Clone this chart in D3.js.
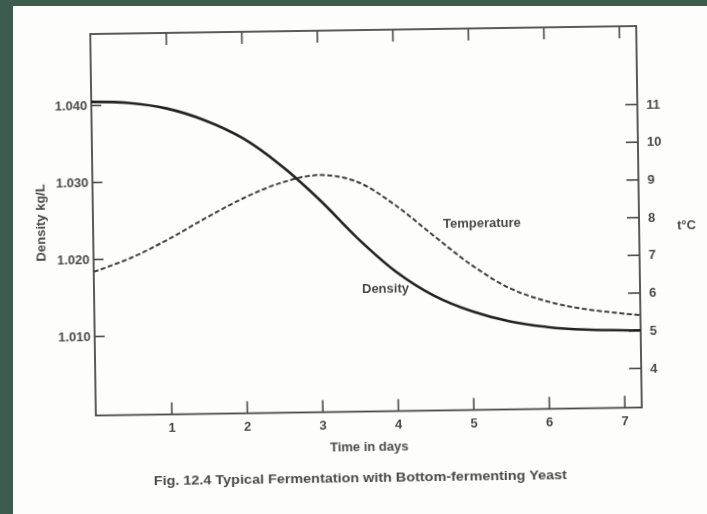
<!DOCTYPE html>
<html>
<head>
<meta charset="utf-8">
<script src="https://cdn.jsdelivr.net/npm/d3@7"></script>
<style>
  body { margin: 0; background: #fdfdfc; }
  .axis text { font-family: "Liberation Sans", Arial, sans-serif; font-weight: bold; font-size: 13px; fill: #4a4a4a; }
  .axis line { stroke: #4a4a4a; stroke-width: 1.6; }
  .axis path { display: none; }
  .lbl { font-family: "Liberation Sans", Arial, sans-serif; font-weight: bold; font-size: 13px; fill: #4a4a4a; }
</style>
</head>
<body>
<div id="d3-container"></div>
<script>
// values
const days = [0, 0.5, 1, 1.5, 2, 2.5, 3, 3.5, 4, 4.5, 5, 5.5, 6, 6.5, 7.23];
const density = [1.0404, 1.0402, 1.0394, 1.0378, 1.0354, 1.0318, 1.0273, 1.0222, 1.0178, 1.0146, 1.0125, 1.0111, 1.0103, 1.0099, 1.0097];
const temperature = [6.76, 7.12, 7.6, 8.15, 8.66, 9.05, 9.24, 9.05, 8.42, 7.6, 6.8, 6.17, 5.8, 5.58, 5.40];
const dayTicks = [1, 2, 3, 4, 5, 6, 7];
const densityTicks = [1.010, 1.020, 1.030, 1.040];
const tempTicks = [4, 5, 6, 7, 8, 9, 10, 11];

const W = 707, H = 514;
const frame = { left: 93, right: 639, top: 30, bottom: 411.5 };

const xScale = d3.scaleLinear().domain([0, 7.23]).range([frame.left, frame.right]);
const yDens = d3.scaleLinear().domain([1.000, 1.050]).range([409, 24]);
const yTemp = d3.scaleLinear().domain([3, 13]).range([409.6, 32.6]);

const svg = d3.select("#d3-container")
    .append("svg")
    .attr("width", W)
    .attr("height", H);

svg.append("defs")
    .append("filter")
    .attr("id", "scan")
    .append("feGaussianBlur")
    .attr("stdDeviation", 0.45);

svg.append("rect").attr("width", W).attr("height", H).attr("fill", "#fdfdfc");

// page is slightly tilted in the scan
const g = svg.append("g")
    .attr("filter", "url(#scan)")
    .attr("transform", "rotate(-0.84, 367, 220)");

g.append("rect")
    .attr("x", frame.left)
    .attr("y", frame.top)
    .attr("width", frame.right - frame.left)
    .attr("height", frame.bottom - frame.top)
    .attr("fill", "none")
    .attr("stroke", "#4a4a4a")
    .attr("stroke-width", 1.8);

g.append("g")
    .attr("class", "axis")
    .attr("transform", "translate(0," + frame.bottom + ")")
    .call(d3.axisBottom(xScale).tickValues(dayTicks).tickSize(-12).tickPadding(8));

g.append("g")
    .attr("class", "axis")
    .attr("transform", "translate(0," + frame.top + ")")
    .call(d3.axisTop(xScale).tickValues(dayTicks).tickFormat("").tickSize(-12));

g.append("g")
    .attr("class", "axis")
    .attr("transform", "translate(" + frame.left + ",0)")
    .call(d3.axisLeft(yDens).tickValues(densityTicks).tickFormat(d3.format(".3f")).tickSize(-10).tickPadding(4));

g.append("g")
    .attr("class", "axis")
    .attr("transform", "translate(" + frame.right + ",0)")
    .call(d3.axisRight(yTemp).tickValues(tempTicks).tickSize(-12).tickPadding(9));

const densLine = d3.line()
    .x((d, i) => xScale(days[i]))
    .y(d => yDens(d))
    .curve(d3.curveCatmullRom);

const tempLine = d3.line()
    .x((d, i) => xScale(days[i]))
    .y(d => yTemp(d))
    .curve(d3.curveCatmullRom);

g.append("path")
    .datum(temperature)
    .attr("d", tempLine)
    .attr("fill", "none")
    .attr("stroke", "#404040")
    .attr("stroke-width", 2)
    .attr("stroke-dasharray", "5,2.5");

g.append("path")
    .datum(density)
    .attr("d", densLine)
    .attr("fill", "none")
    .attr("stroke", "#222")
    .attr("stroke-width", 2.6);

g.append("text")
    .attr("class", "lbl")
    .attr("x", 443).attr("y", 229)
    .text("Temperature");

g.append("text")
    .attr("class", "lbl")
    .attr("x", 361).attr("y", 293)
    .text("Density");

g.append("text")
    .attr("class", "lbl")
    .attr("x", 366).attr("y", 451)
    .attr("text-anchor", "middle")
    .text("Time in days");

g.append("text")
    .attr("class", "lbl")
    .attr("transform", "translate(45,218) rotate(-90)")
    .attr("text-anchor", "middle")
    .text("Density kg/L");

g.append("text")
    .attr("class", "lbl")
    .attr("x", 677).attr("y", 234)
    .text("t°C");

g.append("text")
    .attr("class", "lbl")
    .attr("x", 150).attr("y", 482)
    .attr("textLength", 413)
    .attr("lengthAdjust", "spacingAndGlyphs")
    .style("font-size", "12px")
    .text("Fig. 12.4   Typical Fermentation with Bottom-fermenting Yeast");

// dark green slide border
svg.append("rect").attr("width", W).attr("height", 6).attr("fill", "#3e5c4d");
svg.append("rect").attr("width", 13).attr("height", H).attr("fill", "#3e5c4d");
</script>
</body>
</html>
